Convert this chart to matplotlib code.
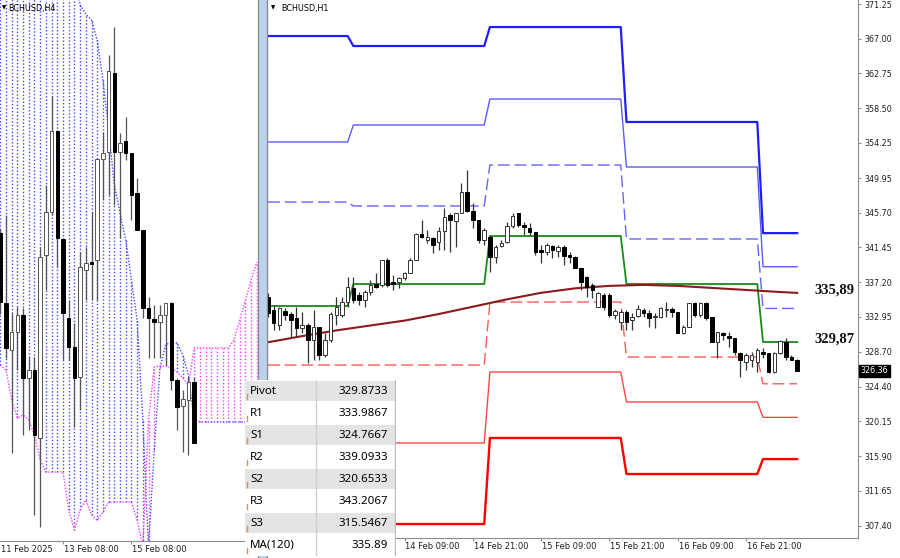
import numpy as np
import matplotlib
matplotlib.use('Agg')
import matplotlib.pyplot as plt
import matplotlib.transforms as mtransforms
from matplotlib.patches import Rectangle

W, H = 900, 558

# ── H1 candles (right panel), hourly bars from 13 Feb 09:00 ──────────
h1_open = [335.43, 333.80, 331.96, 333.72, 333.31, 332.78, 331.56, 331.96, 330.13, 331.68,
           328.29, 330.13, 333.19, 333.19, 334.82, 336.45, 335.64, 335.02, 336.04, 336.94,
           336.86, 339.92, 337.27, 337.27, 337.67, 338.29, 339.92, 343.10, 342.37, 342.57,
           342.16, 343.51, 345.43, 344.73, 345.63, 348.28, 345.96, 344.82, 342.37, 342.78,
           340.33, 341.63, 342.16, 344.08, 345.63, 344.20, 343.80, 343.39, 341.14, 340.94,
           341.63, 341.06, 341.55, 340.53, 340.32, 338.90, 337.88, 336.86, 334.20, 335.63,
           335.63, 333.20, 332.37, 333.59, 332.57, 333.06, 333.80, 333.47, 332.98, 332.98,
           333.80, 333.88, 333.59, 330.94, 331.76, 334.61, 333.18, 334.61, 332.90, 329.92,
           331.02, 330.61, 330.33, 328.49, 327.47, 327.68, 327.47, 328.70, 328.49, 326.25,
           328.49, 329.92, 328.08, 327.68]
h1_high = [335.84, 334.41, 334.21, 334.00, 333.60, 334.21, 333.60, 332.17, 333.80, 331.76,
           330.94, 333.60, 335.43, 335.43, 337.88, 337.88, 336.04, 336.25, 337.47, 338.29,
           339.92, 340.12, 338.08, 337.88, 338.49, 340.12, 343.18, 344.82, 343.59, 342.78,
           344.00, 346.24, 345.63, 345.63, 349.30, 350.94, 346.86, 344.82, 343.80, 342.98,
           341.76, 342.37, 344.61, 345.63, 345.63, 344.61, 344.41, 343.39, 341.76, 341.96,
           341.76, 341.76, 341.75, 340.94, 340.40, 338.95, 338.00, 337.06, 336.04, 335.84,
           335.84, 333.90, 333.80, 333.80, 333.39, 334.41, 334.00, 333.80, 333.39, 334.20,
           334.82, 334.12, 333.59, 331.96, 334.61, 334.82, 334.82, 334.82, 332.98, 331.14,
           331.14, 331.14, 330.33, 328.70, 328.49, 328.70, 329.10, 329.10, 328.49, 328.70,
           330.12, 330.33, 328.29, 327.76]
h1_low = [332.98, 331.35, 331.35, 332.58, 330.54, 330.54, 330.94, 327.27, 327.68, 327.68,
          328.09, 329.92, 331.96, 332.98, 334.21, 334.62, 334.41, 334.21, 335.64, 336.45,
          336.66, 336.66, 336.25, 336.45, 337.47, 338.29, 339.92, 342.57, 341.96, 340.74,
          341.14, 341.14, 340.94, 341.55, 345.63, 345.84, 343.80, 341.96, 341.76, 338.49,
          339.51, 341.47, 342.04, 343.80, 344.00, 342.98, 342.98, 340.53, 339.51, 340.53,
          340.12, 340.33, 339.30, 339.51, 338.90, 336.24, 335.43, 335.22, 334.20, 333.80,
          332.98, 332.70, 331.35, 331.35, 331.35, 332.98, 332.98, 331.76, 331.55, 332.78,
          332.98, 332.98, 330.94, 330.86, 331.76, 332.98, 332.98, 332.57, 329.92, 327.88,
          330.12, 329.31, 328.29, 325.63, 326.45, 326.86, 326.25, 327.88, 326.04, 326.04,
          328.41, 327.68, 327.68, 326.37]
h1_close = [333.39, 332.17, 334.00, 333.19, 332.58, 331.56, 331.96, 330.13, 331.76, 328.29,
            330.13, 333.31, 334.21, 334.82, 336.66, 335.02, 335.02, 336.04, 336.86, 336.66,
            339.92, 336.86, 336.98, 337.67, 338.29, 339.92, 343.10, 342.69, 342.78, 341.76,
            343.51, 345.22, 344.82, 345.63, 348.28, 345.96, 344.82, 342.37, 343.59, 340.33,
            341.55, 341.96, 344.08, 345.30, 344.20, 344.00, 343.39, 340.94, 340.94, 341.76,
            341.14, 341.55, 340.41, 340.24, 338.95, 337.26, 336.65, 336.24, 335.84, 334.20,
            333.18, 333.70, 333.59, 332.37, 332.98, 333.88, 333.39, 332.78, 333.06, 334.00,
            333.88, 333.59, 331.02, 331.76, 334.61, 333.18, 334.61, 332.78, 329.92, 331.14,
            330.74, 330.33, 328.70, 327.68, 328.29, 328.29, 328.90, 328.41, 326.25, 328.49,
            330.04, 328.08, 327.68, 326.36]
last_price = 326.36

# ── daily pivot levels: earlier days, today's values are in the table ─
day_start = [0, 15, 39, 63, 87]
r3_prev = [367.33, 366.11, 368.43, 356.81]
r2_prev = [354.36, 356.44, 359.62, 351.30]
r1_prev = [347.01, 346.53, 351.54, 342.49]
pp_prev = [334.29, 336.98, 342.85, 336.98]
s1_prev = [327.06, 327.06, 334.77, 328.04]
s2_prev = [317.52, 317.52, 326.21, 322.54]
s3_prev = [307.60, 307.60, 318.13, 313.72]

table_names = ['Pivot', 'R1', 'S1', 'R2', 'S2', 'R3', 'S3', 'MA(120)']
table_values = [329.8733, 333.9867, 324.7667, 339.0933, 320.6533, 343.2067, 315.5467, 335.89]

# MA(120) read at a few bars
ma_idx = [0, 6, 12, 18, 24, 30, 36, 42, 48, 54, 60, 66, 72, 78, 84, 90, 93]
ma_val = [329.85, 330.60, 331.30, 331.90, 332.50, 333.30, 334.20, 335.10, 335.90,
          336.45, 336.75, 336.87, 336.75, 336.50, 336.25, 336.00, 335.89]

h1_tick_idx = [24, 36, 48, 60, 72, 84]
h1_tick_lbl = ['14 Feb 09:00', '14 Feb 21:00', '15 Feb 09:00',
               '15 Feb 21:00', '16 Feb 09:00', '16 Feb 21:00']
h1_yticks = [307.40, 311.65, 315.90, 320.15, 324.40, 328.70, 332.95, 337.20,
             341.45, 345.70, 349.95, 354.25, 358.50, 362.75, 367.00, 371.25]

# ── H4 candles (left panel) ──────────────────────────────────────────
h4_open = [357.38, 347.58, 341.00, 343.52, 345.90, 337.08, 338.20, 328.68, 354.30, 360.32,
           371.66, 356.54, 345.48, 341.42, 337.22, 352.20, 353.18, 353.60, 367.74, 368.72,
           379.78, 368.72, 370.26, 368.58, 362.98, 357.80, 346.88, 345.34, 344.92, 345.90,
           347.58, 336.80, 333.16, 334.00, 336.52]
h4_high = [358.00, 359.90, 346.18, 347.02, 346.88, 340.02, 340.02, 355.42, 364.10, 376.56,
           371.80, 356.68, 348.00, 344.78, 354.72, 355.42, 360.32, 367.74, 371.52, 382.30,
           386.22, 371.38, 373.62, 368.58, 365.08, 357.80, 348.42, 347.30, 347.30, 347.58,
           347.72, 337.08, 335.40, 337.22, 337.22]
h4_low = [346.00, 339.88, 326.58, 338.20, 329.10, 329.80, 317.90, 316.22, 349.40, 359.90,
          352.62, 339.60, 339.60, 330.22, 332.60, 348.00, 348.00, 348.00, 362.00, 362.70,
          361.30, 356.68, 367.60, 359.20, 357.80, 345.48, 339.88, 339.88, 339.88, 338.90,
          335.40, 329.80, 326.72, 326.30, 327.98]
h4_close = [347.72, 341.28, 343.52, 345.90, 337.08, 338.20, 329.10, 354.02, 360.32, 371.66,
            356.68, 346.18, 341.42, 337.08, 352.62, 353.18, 353.00, 367.74, 368.58, 380.06,
            368.72, 369.98, 368.58, 362.70, 357.80, 346.88, 345.48, 344.92, 345.90, 347.58,
            336.80, 333.02, 334.14, 336.52, 327.98]

# Ichimoku spans (shifted forward, so they run past the last candle)
span_a = [338.90, 338.20, 334.00, 331.48, 331.90, 331.20, 329.10, 325.60, 323.92, 323.92,
          323.92, 323.92, 318.60, 315.80, 318.60, 320.00, 317.90, 317.20, 318.32, 319.72,
          319.72, 319.72, 319.72, 319.72, 317.20, 313.42, 331.20, 338.62, 338.76, 338.76,
          338.48, 337.92, 337.08, 336.10, 341.28, 341.28, 341.28, 341.28, 341.28, 341.28,
          341.28, 342.40, 345.20, 348.00, 350.80, 353.32]
span_b = [394.20, 394.20, 394.20, 394.20, 394.20, 394.20, 394.20, 394.20, 394.20, 394.20,
          394.20, 394.20, 394.20, 394.20, 389.30, 388.04, 387.20, 384.40, 378.80, 371.80,
          364.10, 360.18, 356.40, 350.80, 345.20, 331.20, 313.42, 327.00, 338.48, 341.70,
          342.12, 341.98, 340.30, 337.50, 331.20, 330.92, 330.92, 330.92, 330.92, 330.92,
          330.92, 330.92, 330.92, 330.92, 330.92, 330.92]

h4_tick_idx = [11, 23]
h4_tick_lbl = ['13 Feb 08:00', '15 Feb 08:00']
h4_first_lbl = '11 Feb 2025'

AXIS_GREY = '#8c8c8c'
TXT = '#202020'


def px_box(x0, y0, x1, y1):
    return [x0 / W, 1 - y1 / H, (x1 - x0) / W, (y1 - y0) / H]


def draw_candles(ax, o, h, l, c, width, wick_col, edge_col, min_h):
    o, h, l, c = map(np.asarray, (o, h, l, c))
    x = np.arange(len(o))
    ax.vlines(x, l, h, color=wick_col, lw=0.9, zorder=3)
    up = c >= o
    bottom = np.minimum(o, c)
    height = np.maximum(np.abs(c - o), min_h)
    ax.bar(x[up], height[up], width, bottom[up], facecolor='white',
           edgecolor=edge_col, lw=0.7, zorder=4)
    ax.bar(x[~up], height[~up], width, bottom[~up], facecolor='black',
           edgecolor='black', lw=0.7, zorder=4)


fig = plt.figure(figsize=(9, 5.58), dpi=100)
fig.patch.set_facecolor('white')

# ── left panel: H4 with cloud ────────────────────────────────────────
ax_l = fig.add_axes(px_box(0, 0, 258, 541))
ax_l.set_xlim(-0.05, 45.2)
ax_l.set_ylim(314.26, 390)
for k in range(len(span_a)):
    col = '#4646ff' if span_b[k] > span_a[k] else '#ff3cff'
    ax_l.vlines(k, min(span_a[k], span_b[k]), max(span_a[k], span_b[k]),
                color=col, lw=1.0, linestyles=(0, (1, 1.5)), zorder=1)
ax_l.plot(range(len(span_b)), span_b, color='#4646ff', lw=1, ls=(0, (1, 1.2)), zorder=2)
ax_l.plot(range(len(span_a)), span_a, color='#ff3cff', lw=1, ls=(0, (1, 1.2)), zorder=2)
draw_candles(ax_l, h4_open, h4_high, h4_low, h4_close, 0.62, '#555555', '#555555', 0.25)

for s in ['top', 'left']:
    ax_l.spines[s].set_visible(False)
for s in ['bottom', 'right']:
    ax_l.spines[s].set_color(AXIS_GREY)
ax_l.set_yticks([])
ax_l.set_xticks(h4_tick_idx)
ax_l.set_xticklabels([])
ax_l.tick_params(axis='x', length=2.5, color=AXIS_GREY, direction='out')
trans_l = mtransforms.blended_transform_factory(ax_l.transData, ax_l.transAxes)
for k, lbl in zip(h4_tick_idx, h4_tick_lbl):
    ax_l.text(k + 0.1, -0.008, lbl, transform=trans_l, ha='left', va='top',
              fontsize=6, color=TXT, clip_on=False)
ax_l.text(0.002, -0.008, h4_first_lbl, transform=ax_l.transAxes, ha='left', va='top',
          fontsize=6, color=TXT, clip_on=False)
fig.text(2 / W, 1 - 8 / H, '\u25BC', fontsize=4, va='center', ha='left', color='black')
fig.text(8 / W, 1 - 8 / H, 'BCHUSD,H4', fontsize=5.8, va='center', ha='left', color='black')

# ── right panel: H1 with pivot levels ────────────────────────────────
ax_r = fig.add_axes(px_box(267, 0, 858, 538))
ax_r.set_xlim(-0.18, 103.7)
ax_r.set_ylim(305.89, 371.74)

n_h1 = len(h1_open)
seg_len = np.diff(day_start + [n_h1])
bars = np.arange(n_h1)


def levels(prev, today):
    return np.repeat(prev + [today], seg_len)


lvl = dict(zip(table_names, table_values))
dash = (0, (8.5, 3.5))
ax_r.plot(bars, levels(r3_prev, lvl['R3']), color='#1e1eff', lw=1.6, zorder=2)
ax_r.plot(bars, levels(r2_prev, lvl['R2']), color='#5a5aff', lw=1.0, zorder=2)
ax_r.plot(bars, levels(r1_prev, lvl['R1']), color='#6464ff', lw=1.0, ls=dash, zorder=2)
ax_r.plot(bars, levels(pp_prev, lvl['Pivot']), color='#1a8a1a', lw=1.3, zorder=2)
ax_r.plot(bars, levels(s1_prev, lvl['S1']), color='#ff5a5a', lw=1.0, ls=dash, zorder=2)
ax_r.plot(bars, levels(s2_prev, lvl['S2']), color='#ff4646', lw=1.0, zorder=2)
ax_r.plot(bars, levels(s3_prev, lvl['S3']), color='#ff0000', lw=1.7, zorder=2)
ax_r.plot(ma_idx, ma_val, color='#8b1a1a', lw=1.5, zorder=2)

draw_candles(ax_r, h1_open, h1_high, h1_low, h1_close, 0.62, '#333333', '#333333', 0.06)

ax_r.spines['top'].set_visible(False)
for s in ['bottom', 'right', 'left']:
    ax_r.spines[s].set_color(AXIS_GREY)
ax_r.yaxis.tick_right()
ax_r.set_yticks(h1_yticks)
ax_r.set_yticklabels([f'{v:.2f}' for v in h1_yticks])
ax_r.tick_params(axis='y', length=2.5, color=AXIS_GREY, labelsize=5.8,
                 labelcolor=TXT, pad=2)
ax_r.set_xticks(h1_tick_idx)
ax_r.set_xticklabels([])
ax_r.tick_params(axis='x', length=2.5, color=AXIS_GREY, direction='out')
trans_r = mtransforms.blended_transform_factory(ax_r.transData, ax_r.transAxes)
for k, lbl in zip(h1_tick_idx, h1_tick_lbl):
    ax_r.text(k + 0.15, -0.008, lbl, transform=trans_r, ha='left', va='top',
              fontsize=6, color=TXT, clip_on=False)

# current price tag
trans_p = mtransforms.blended_transform_factory(ax_r.transAxes, ax_r.transData)
ax_r.text(1.004, last_price, f'{last_price:.2f}', transform=trans_p, fontsize=5.8,
          color='white', ha='left', va='center', clip_on=False,
          bbox=dict(boxstyle='square,pad=0.2', fc='black', ec='black'))

# bold level labels
for v in [lvl['MA(120)'], lvl['Pivot']]:
    ax_r.text(99.5, v + 0.35, f'{v:.2f}'.replace('.', ','), ha='center', va='center',
              fontsize=10.5, fontweight='bold', family='Liberation Serif', color='#111111')

fig.text(271 / W, 1 - 8 / H, '\u25BC', fontsize=4, va='center', ha='left', color='black')
fig.text(281 / W, 1 - 8 / H, 'BCHUSD,H1', fontsize=5.8, va='center', ha='left', color='black')

# window separator between the two charts
fig.patches.append(Rectangle((258 / W, 0), 9 / W, 1, transform=fig.transFigure,
                             fc='#bcd2ea', ec='none', zorder=5))
for xp in [258, 266.5]:
    fig.add_artist(plt.Line2D([xp / W, xp / W], [0, 1], transform=fig.transFigure,
                              color='#8a8a8a', lw=0.9, zorder=6))

# ── levels table ─────────────────────────────────────────────────────
ax_t = fig.add_axes(px_box(245, 380, 396, 556), zorder=10)
ax_t.set_xlim(0, 151)
ax_t.set_ylim(len(table_names), 0)
ax_t.axis('off')
ax_t.add_patch(Rectangle((0, 0), 151, len(table_names), fc='white', ec='none'))
for r, (name, val) in enumerate(zip(table_names, table_values)):
    shade = '#e4e4e4' if r % 2 == 0 else 'white'
    ax_t.add_patch(Rectangle((0, r + 0.05), 151, 0.9, fc=shade, ec='none'))
    ax_t.plot([2, 2], [r + 0.62, r + 0.85], color='#c09a60', lw=1)
    ax_t.text(5, r + 0.52, name, va='center', ha='left', fontsize=8.3,
              family='Noto Sans', color='black')
    txt = f'{val:.2f}' if name.startswith('MA') else f'{val:.4f}'
    ax_t.text(143, r + 0.52, txt, va='center', ha='right', fontsize=8.3,
              family='Noto Sans', color='black')
ax_t.plot([71, 71], [0, len(table_names)], color='#cfcfcf', lw=1)
ax_t.plot([150.5, 150.5], [0, len(table_names)], color='#bdbdbd', lw=1)

fig.savefig('out.png', dpi=100)
